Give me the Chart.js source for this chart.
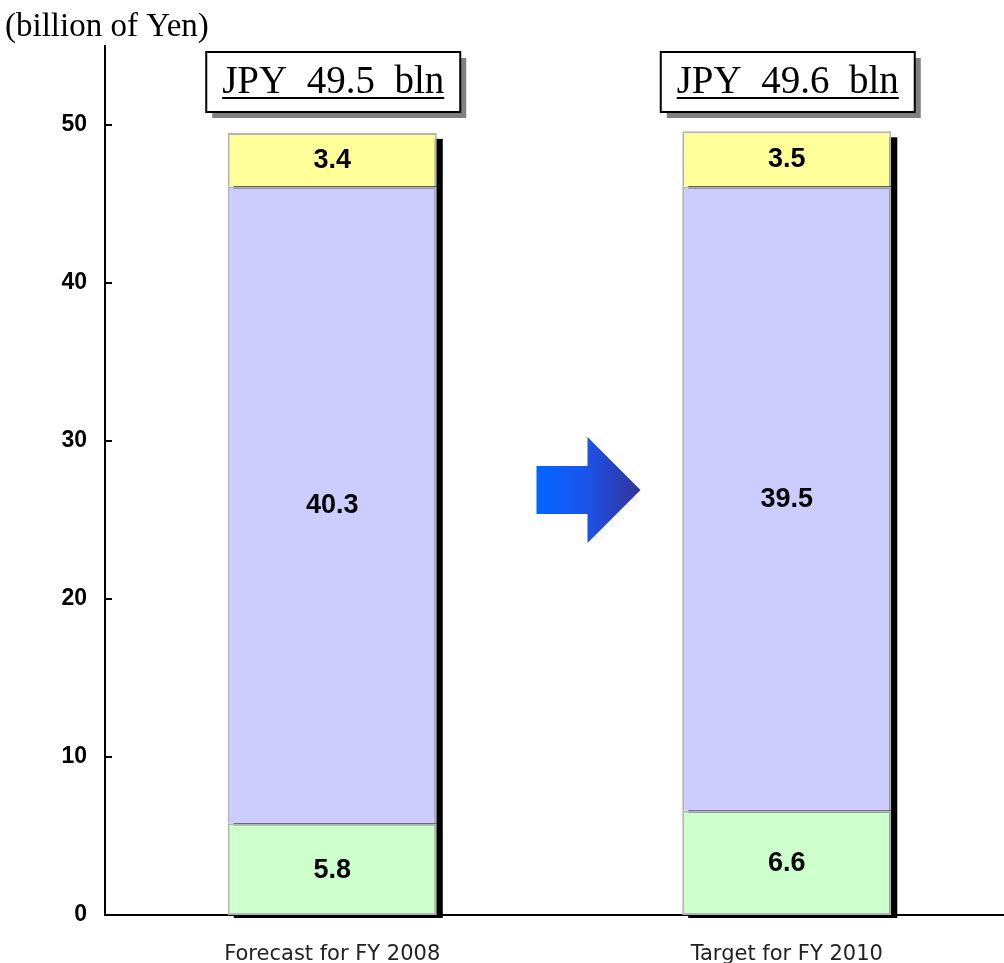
<!DOCTYPE html>
<html>
<head>
<meta charset="utf-8">
<script src="https://cdn.jsdelivr.net/npm/chart.js@4/dist/chart.umd.min.js"></script>
<style>
    html, body { margin: 0; padding: 0; background: #fff; overflow: hidden; }
    #wrap { position: relative; width: 1014px; height: 963px; }
</style>
</head>
<body>
<div id="wrap"><canvas id="revenueChart"></canvas></div>
<script>
// data
const categories = ['Forecast for FY 2008', 'Target for FY 2010'];
const bottomValues = [5.8, 6.6];
const middleValues = [40.3, 39.5];
const topValues = [3.4, 3.5];
const yTicks = [0, 10, 20, 30, 40, 50];
const yMax = 55;
const unitLabel = '(billion of Yen)';

const serif = '"Liberation Serif", "Times New Roman", serif';
const sans = '"Liberation Sans", Arial, sans-serif';

// 柱子阴影 + 数值标签 + 箭头 + 合计框
const decorPlugin = {
    id: 'decor',
    beforeDatasetsDraw(chart) {
        const ctx = chart.ctx;
        const top = chart.getDatasetMeta(2).data;
        const bottom = chart.getDatasetMeta(0).data;
        ctx.save();
        ctx.fillStyle = '#000';
        top.forEach((bar, i) => {
            const w = bar.width;
            const x0 = bar.x - w / 2 + 6;
            const y0 = bar.y + 6;
            const y1 = bottom[i].base + 3;
            ctx.fillRect(x0, y0, w, y1 - y0);
        });
        ctx.restore();
    },
    afterDatasetsDraw(chart) {
        const ctx = chart.ctx;
        const area = chart.chartArea;
        const yScale = chart.scales.y;
        const xScale = chart.scales.x;
        ctx.save();

        // 数值标签
        ctx.font = 'bold 27px ' + sans;
        ctx.fillStyle = '#000';
        ctx.textAlign = 'center';
        ctx.textBaseline = 'middle';
        chart.data.datasets.forEach((ds, di) => {
            chart.getDatasetMeta(di).data.forEach((bar, i) => {
                ctx.fillText(ds.data[i].toFixed(1), bar.x, (bar.y + bar.base) / 2 + 1);
            });
        });

        // y 轴刻度（朝内）
        ctx.strokeStyle = '#000';
        ctx.lineWidth = 2;
        yTicks.forEach(v => {
            const y = yScale.getPixelForValue(v);
            ctx.beginPath();
            ctx.moveTo(area.left, y);
            ctx.lineTo(area.left + 7, y);
            ctx.stroke();
        });

        // 合计框
        ctx.font = '39px ' + serif;
        categories.forEach((c, i) => {
            const total = bottomValues[i] + middleValues[i] + topValues[i];
            const text = 'JPY  ' + total.toFixed(1) + '  bln';
            const cx = xScale.getPixelForValue(i) + 1;
            const bw = 254, bh = 60;
            const bx = cx - bw / 2, by = area.top + 6;
            ctx.fillStyle = '#808080';
            ctx.fillRect(bx + 6, by + 6, bw, bh);
            ctx.fillStyle = '#fff';
            ctx.fillRect(bx, by, bw, bh);
            ctx.strokeStyle = '#000';
            ctx.lineWidth = 2;
            ctx.strokeRect(bx, by, bw, bh);
            ctx.fillStyle = '#000';
            ctx.textAlign = 'center';
            ctx.textBaseline = 'alphabetic';
            ctx.fillText(text, cx, by + 41);
            const tw = ctx.measureText(text).width;
            ctx.fillRect(cx - tw / 2, by + 45, tw, 2);
        });

        // 箭头
        const ax = (xScale.getPixelForValue(0) + xScale.getPixelForValue(1)) / 2 - 23;
        const ay = yScale.getPixelForValue(26.9);
        const grad = ctx.createLinearGradient(ax, 0, ax + 104, 0);
        grad.addColorStop(0, '#0066ff');
        grad.addColorStop(0.45, '#1a55ee');
        grad.addColorStop(1, '#333399');
        ctx.fillStyle = grad;
        ctx.beginPath();
        ctx.moveTo(ax, ay - 24);
        ctx.lineTo(ax + 51, ay - 24);
        ctx.lineTo(ax + 51, ay - 53);
        ctx.lineTo(ax + 104, ay);
        ctx.lineTo(ax + 51, ay + 53);
        ctx.lineTo(ax + 51, ay + 24);
        ctx.lineTo(ax, ay + 24);
        ctx.closePath();
        ctx.fill();

        // 单位
        ctx.font = '33px ' + serif;
        ctx.fillStyle = '#000';
        ctx.textAlign = 'left';
        ctx.textBaseline = 'alphabetic';
        ctx.fillText(unitLabel, 5, 36);

        ctx.restore();
    }
};

function makeDataset(values, color, skip) {
    return {
        data: values,
        backgroundColor: color,
        borderColor: '#b4b4b4',
        borderWidth: 2,
        borderSkipped: skip,
        barPercentage: 0.46,
        categoryPercentage: 1
    };
}

function initChart() {
    const ctx = document.getElementById('revenueChart').getContext('2d');
    new Chart(ctx, {
        type: 'bar',
        data: {
            labels: categories,
            datasets: [
                makeDataset(bottomValues, '#ccffcc', false),
                makeDataset(middleValues, '#ccccff', 'bottom'),
                makeDataset(topValues, '#ffff99', 'bottom')
            ]
        },
        options: {
            responsive: true,
            maintainAspectRatio: false,
            animation: false,
            layout: { padding: { top: 46, right: 0, left: 0, bottom: 0 } },
            plugins: {
                legend: { display: false },
                tooltip: { enabled: false }
            },
            scales: {
                x: {
                    stacked: true,
                    grid: { display: false, drawTicks: false },
                    border: { display: true, color: '#000', width: 2 },
                    ticks: {
                        color: '#222',
                        padding: 27,
                        font: { family: '"DejaVu Sans", sans-serif', size: 21 }
                    },
                    afterFit(s) { s.height = 48; }
                },
                y: {
                    stacked: true,
                    min: 0,
                    max: yMax,
                    grid: { display: false, drawTicks: false },
                    border: { display: true, color: '#000', width: 2 },
                    ticks: {
                        stepSize: 10,
                        padding: 18,
                        color: '#000',
                        font: { family: sans, size: 23, weight: 'bold' }
                    },
                    afterBuildTicks(s) {
                        s.ticks = yTicks.map(v => ({ value: v }));
                    },
                    afterFit(s) { s.width = 105; }
                }
            }
        },
        plugins: [decorPlugin]
    });
}

document.addEventListener('DOMContentLoaded', initChart);
</script>
</body>
</html>
